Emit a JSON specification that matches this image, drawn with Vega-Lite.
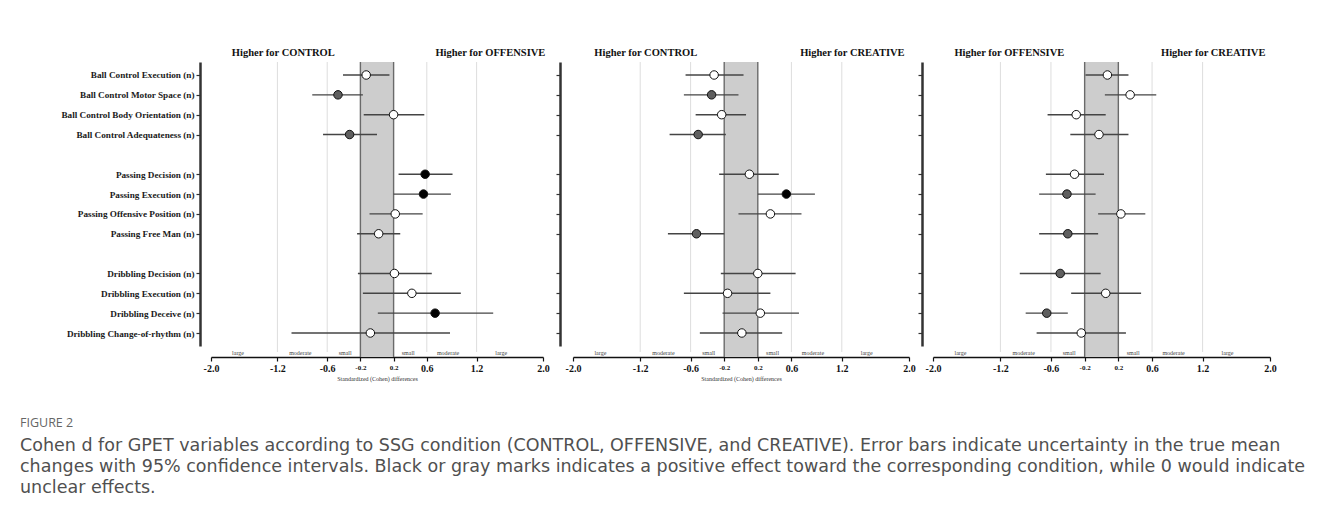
{
  "$schema": "https://vega.github.io/schema/vega-lite/v6.json",
  "padding": {"left": 20, "top": 47, "right": 5, "bottom": 5},
  "bounds": "flush",
  "spacing": 30,
  "config": {"view": {"stroke": null}, "font": "Liberation Serif"},
  "title": {
    "text": "FIGURE 2",
    "subtitle": [
      "Cohen d for GPET variables according to SSG condition (CONTROL, OFFENSIVE, and CREATIVE). Error bars indicate uncertainty in the true mean",
      "changes with 95% confidence intervals. Black or gray marks indicates a positive effect toward the corresponding condition, while 0 would indicate",
      "unclear effects."
    ],
    "orient": "bottom",
    "anchor": "start",
    "frame": "group",
    "dx": -191,
    "offset": 36,
    "font": "Open Sans",
    "fontSize": 12.5,
    "fontWeight": "normal",
    "color": "#666666",
    "subtitleFont": "DejaVu Sans",
    "subtitleFontSize": 17.5,
    "subtitleFontWeight": "normal",
    "subtitleColor": "#505050",
    "subtitleLineHeight": 21,
    "subtitlePadding": 7
  },
  "datasets": {
    "band": [{"lo": -0.2, "hi": 0.2}],
    "edges": [{"v": -0.2}, {"v": 0.2}],
    "grid": [{"v": -1.2}, {"v": -0.6}, {"v": 0.6}, {"v": 1.2}],
    "cohen": [
      {"comparison": "CONTROL-OFFENSIVE", "item": "Ball Control Execution (n)", "d": -0.13, "lo": -0.41, "hi": 0.15, "effect": "unclear"},
      {"comparison": "CONTROL-OFFENSIVE", "item": "Ball Control Motor Space (n)", "d": -0.47, "lo": -0.78, "hi": -0.17, "effect": "gray"},
      {"comparison": "CONTROL-OFFENSIVE", "item": "Ball Control Body Orientation (n)", "d": 0.2, "lo": -0.16, "hi": 0.57, "effect": "unclear"},
      {"comparison": "CONTROL-OFFENSIVE", "item": "Ball Control Adequateness (n)", "d": -0.33, "lo": -0.65, "hi": 0.0, "effect": "gray"},
      {"comparison": "CONTROL-OFFENSIVE", "item": "Passing Decision (n)", "d": 0.58, "lo": 0.26, "hi": 0.91, "effect": "black"},
      {"comparison": "CONTROL-OFFENSIVE", "item": "Passing Execution (n)", "d": 0.56, "lo": 0.2, "hi": 0.89, "effect": "black"},
      {"comparison": "CONTROL-OFFENSIVE", "item": "Passing Offensive Position (n)", "d": 0.22, "lo": -0.09, "hi": 0.55, "effect": "unclear"},
      {"comparison": "CONTROL-OFFENSIVE", "item": "Passing Free Man (n)", "d": 0.02, "lo": -0.24, "hi": 0.28, "effect": "unclear"},
      {"comparison": "CONTROL-OFFENSIVE", "item": "Dribbling Decision (n)", "d": 0.21, "lo": -0.23, "hi": 0.66, "effect": "unclear"},
      {"comparison": "CONTROL-OFFENSIVE", "item": "Dribbling Execution (n)", "d": 0.42, "lo": -0.17, "hi": 1.01, "effect": "unclear"},
      {"comparison": "CONTROL-OFFENSIVE", "item": "Dribbling Deceive (n)", "d": 0.7, "lo": 0.01, "hi": 1.4, "effect": "black"},
      {"comparison": "CONTROL-OFFENSIVE", "item": "Dribbling Change-of-rhythm (n)", "d": -0.08, "lo": -1.03, "hi": 0.88, "effect": "unclear"},
      {"comparison": "CONTROL-CREATIVE", "item": "Ball Control Execution (n)", "d": -0.32, "lo": -0.66, "hi": 0.03, "effect": "unclear"},
      {"comparison": "CONTROL-CREATIVE", "item": "Ball Control Motor Space (n)", "d": -0.35, "lo": -0.68, "hi": -0.03, "effect": "gray"},
      {"comparison": "CONTROL-CREATIVE", "item": "Ball Control Body Orientation (n)", "d": -0.23, "lo": -0.54, "hi": 0.06, "effect": "unclear"},
      {"comparison": "CONTROL-CREATIVE", "item": "Ball Control Adequateness (n)", "d": -0.51, "lo": -0.85, "hi": -0.18, "effect": "gray"},
      {"comparison": "CONTROL-CREATIVE", "item": "Passing Decision (n)", "d": 0.1, "lo": -0.26, "hi": 0.45, "effect": "unclear"},
      {"comparison": "CONTROL-CREATIVE", "item": "Passing Execution (n)", "d": 0.54, "lo": 0.2, "hi": 0.88, "effect": "black"},
      {"comparison": "CONTROL-CREATIVE", "item": "Passing Offensive Position (n)", "d": 0.35, "lo": -0.03, "hi": 0.72, "effect": "unclear"},
      {"comparison": "CONTROL-CREATIVE", "item": "Passing Free Man (n)", "d": -0.53, "lo": -0.87, "hi": -0.2, "effect": "gray"},
      {"comparison": "CONTROL-CREATIVE", "item": "Dribbling Decision (n)", "d": 0.2, "lo": -0.24, "hi": 0.65, "effect": "unclear"},
      {"comparison": "CONTROL-CREATIVE", "item": "Dribbling Execution (n)", "d": -0.16, "lo": -0.68, "hi": 0.35, "effect": "unclear"},
      {"comparison": "CONTROL-CREATIVE", "item": "Dribbling Deceive (n)", "d": 0.23, "lo": -0.22, "hi": 0.69, "effect": "unclear"},
      {"comparison": "CONTROL-CREATIVE", "item": "Dribbling Change-of-rhythm (n)", "d": 0.01, "lo": -0.49, "hi": 0.49, "effect": "unclear"},
      {"comparison": "OFFENSIVE-CREATIVE", "item": "Ball Control Execution (n)", "d": 0.07, "lo": -0.19, "hi": 0.32, "effect": "unclear"},
      {"comparison": "OFFENSIVE-CREATIVE", "item": "Ball Control Motor Space (n)", "d": 0.34, "lo": 0.04, "hi": 0.65, "effect": "unclear"},
      {"comparison": "OFFENSIVE-CREATIVE", "item": "Ball Control Body Orientation (n)", "d": -0.3, "lo": -0.64, "hi": 0.05, "effect": "unclear"},
      {"comparison": "OFFENSIVE-CREATIVE", "item": "Ball Control Adequateness (n)", "d": -0.03, "lo": -0.37, "hi": 0.32, "effect": "unclear"},
      {"comparison": "OFFENSIVE-CREATIVE", "item": "Passing Decision (n)", "d": -0.32, "lo": -0.66, "hi": 0.03, "effect": "unclear"},
      {"comparison": "OFFENSIVE-CREATIVE", "item": "Passing Execution (n)", "d": -0.41, "lo": -0.74, "hi": -0.07, "effect": "gray"},
      {"comparison": "OFFENSIVE-CREATIVE", "item": "Passing Offensive Position (n)", "d": 0.23, "lo": -0.04, "hi": 0.52, "effect": "unclear"},
      {"comparison": "OFFENSIVE-CREATIVE", "item": "Passing Free Man (n)", "d": -0.4, "lo": -0.74, "hi": -0.04, "effect": "gray"},
      {"comparison": "OFFENSIVE-CREATIVE", "item": "Dribbling Decision (n)", "d": -0.49, "lo": -0.97, "hi": -0.01, "effect": "gray"},
      {"comparison": "OFFENSIVE-CREATIVE", "item": "Dribbling Execution (n)", "d": 0.05, "lo": -0.36, "hi": 0.47, "effect": "unclear"},
      {"comparison": "OFFENSIVE-CREATIVE", "item": "Dribbling Deceive (n)", "d": -0.65, "lo": -0.9, "hi": -0.4, "effect": "gray"},
      {"comparison": "OFFENSIVE-CREATIVE", "item": "Dribbling Change-of-rhythm (n)", "d": -0.24, "lo": -0.77, "hi": 0.29, "effect": "unclear"}
    ]
  },
  "hconcat": [
    {
      "width": 332,
      "height": 284,
      "resolve": {"axis": {"x": "independent"}},
      "layer": [
        {
          "data": {"name": "band"},
          "mark": {"type": "rect", "color": "#cdcdcd"},
          "encoding": {
            "x": {"field": "lo", "type": "quantitative", "scale": {"domain": [-2, 2], "nice": false, "zero": false},
              "axis": {"orient": "bottom", "values": [-1.68, -0.93, -0.39, 0.37, 0.85, 1.49], "labelExpr": "abs(datum.value) > 1.2 ? 'large' : abs(datum.value) > 0.6 ? 'moderate' : 'small'", "offset": 0, "domain": false, "ticks": false, "grid": false, "title": null, "labelFont": "Liberation Serif", "labelFontSize": 6, "labelColor": "#444", "labelPadding": 3, "labelFlush": false, "labelOverlap": false}},
            "x2": {"field": "hi"},
            "y": {"value": 0},
            "y2": {"value": {"expr": "height + 11"}}
          }
        },
        {
          "data": {"name": "grid"},
          "mark": {"type": "rule", "color": "#dddddd", "strokeWidth": 1},
          "encoding": {
            "x": {"field": "v", "type": "quantitative", "axis": null},
            "y": {"value": 0},
            "y2": {"value": {"expr": "height + 6"}}
          }
        },
        {
          "data": {"name": "edges"},
          "mark": {"type": "rule", "color": "#6a6a6a", "strokeWidth": 1.4},
          "encoding": {
            "x": {"field": "v", "type": "quantitative",
              "axis": {"orient": "top", "values": [-1.135, 1.36], "labelExpr": "datum.value < 0 ? 'Higher for CONTROL' : 'Higher for OFFENSIVE'", "domain": false, "ticks": false, "grid": false, "title": null, "labelFont": "Liberation Serif", "labelFontWeight": "bold", "labelFontSize": 10.5, "labelColor": "#111", "labelPadding": 5, "labelFlush": false, "labelOverlap": false}},
            "y": {"value": 0},
            "y2": {"value": {"expr": "height + 11"}}
          }
        },
        {
          "data": {"name": "cohen"},
          "transform": [{"filter": "datum.comparison == 'CONTROL-OFFENSIVE'"}],
          "mark": {"type": "rule", "color": "#444444", "strokeWidth": 1.4},
          "encoding": {
            "x": {"field": "lo", "type": "quantitative",
              "axis": {"values": [-2, -1.2, -0.6, -0.2, 0.2, 0.6, 1.2, 2], "labelExpr": "replace(format(datum.value, '.1f'), '\u2212', '-')", "offset": 11, "title": "Standardized (Cohen) differences", "titleFont": "Liberation Serif", "titleFontSize": 6, "titleFontWeight": "normal", "titleColor": "#333", "titlePadding": 2, "domainColor": "#111", "domainWidth": 1.5, "tickColor": "#111", "tickSize": 4, "tickWidth": 1.2, "labelFont": "Liberation Serif", "labelFontWeight": "bold", "labelFontSize": {"condition": {"test": "abs(datum.value) < 0.3", "value": 7}, "value": 10}, "labelColor": "#111", "labelPadding": 2, "grid": false, "labelFlush": false, "labelOverlap": false}},
            "x2": {"field": "hi"},
            "y": {"field": "item", "type": "nominal",
              "scale": {"type": "point", "padding": 0.655, "domain": ["Ball Control Execution (n)", "Ball Control Motor Space (n)", "Ball Control Body Orientation (n)", "Ball Control Adequateness (n)", "gap1", "Passing Decision (n)", "Passing Execution (n)", "Passing Offensive Position (n)", "Passing Free Man (n)", "gap2", "Dribbling Decision (n)", "Dribbling Execution (n)", "Dribbling Deceive (n)", "Dribbling Change-of-rhythm (n)"]},
              "axis": {"values": ["Ball Control Execution (n)", "Ball Control Motor Space (n)", "Ball Control Body Orientation (n)", "Ball Control Adequateness (n)", "Passing Decision (n)", "Passing Execution (n)", "Passing Offensive Position (n)", "Passing Free Man (n)", "Dribbling Decision (n)", "Dribbling Execution (n)", "Dribbling Deceive (n)", "Dribbling Change-of-rhythm (n)"], "offset": 11, "title": null, "domainColor": "#333", "domainWidth": 2.5, "tickColor": "#333", "tickWidth": 1.2, "tickSize": 4, "labelFont": "Liberation Serif", "labelFontWeight": "bold", "labelFontSize": 9.2, "labelColor": "#1a1a1a", "labelPadding": 2, "grid": false}}
          }
        },
        {
          "data": {"name": "cohen"},
          "transform": [{"filter": "datum.comparison == 'CONTROL-OFFENSIVE'"}],
          "mark": {"type": "point", "shape": "circle", "filled": true, "size": 72, "stroke": "#111", "strokeWidth": 1, "opacity": 1},
          "encoding": {
            "x": {"field": "d", "type": "quantitative", "axis": null},
            "y": {"field": "item", "type": "nominal"},
            "fill": {"field": "effect", "type": "nominal", "scale": {"domain": ["unclear", "gray", "black"], "range": ["#ffffff", "#5f5f5f", "#000000"]}, "legend": null}
          }
        }
      ]
    },
    {
      "spacing": 24,
      "bounds": "flush",
      "hconcat": [
        {
          "width": 336,
          "height": 284,
          "resolve": {"axis": {"x": "independent"}},
          "layer": [
            {
              "data": {"name": "band"},
              "mark": {"type": "rect", "color": "#cdcdcd"},
              "encoding": {
                "x": {"field": "lo", "type": "quantitative", "scale": {"domain": [-2, 2], "nice": false, "zero": false},
                  "axis": {"orient": "bottom", "values": [-1.68, -0.93, -0.39, 0.37, 0.85, 1.49], "labelExpr": "abs(datum.value) > 1.2 ? 'large' : abs(datum.value) > 0.6 ? 'moderate' : 'small'", "offset": 0, "domain": false, "ticks": false, "grid": false, "title": null, "labelFont": "Liberation Serif", "labelFontSize": 6, "labelColor": "#444", "labelPadding": 3, "labelFlush": false, "labelOverlap": false}},
                "x2": {"field": "hi"},
                "y": {"value": 0},
                "y2": {"value": {"expr": "height + 11"}}
              }
            },
            {
              "data": {"name": "grid"},
              "mark": {"type": "rule", "color": "#dddddd", "strokeWidth": 1},
              "encoding": {
                "x": {"field": "v", "type": "quantitative", "axis": null},
                "y": {"value": 0},
                "y2": {"value": {"expr": "height + 6"}}
              }
            },
            {
              "data": {"name": "edges"},
              "mark": {"type": "rule", "color": "#6a6a6a", "strokeWidth": 1.4},
              "encoding": {
                "x": {"field": "v", "type": "quantitative",
                  "axis": {"orient": "top", "values": [-1.14, 1.32], "labelExpr": "datum.value < 0 ? 'Higher for CONTROL' : 'Higher for CREATIVE'", "domain": false, "ticks": false, "grid": false, "title": null, "labelFont": "Liberation Serif", "labelFontWeight": "bold", "labelFontSize": 10.5, "labelColor": "#111", "labelPadding": 5, "labelFlush": false, "labelOverlap": false}},
                "y": {"value": 0},
                "y2": {"value": {"expr": "height + 11"}}
              }
            },
            {
              "data": {"name": "cohen"},
              "transform": [{"filter": "datum.comparison == 'CONTROL-CREATIVE'"}],
              "mark": {"type": "rule", "color": "#444444", "strokeWidth": 1.4},
              "encoding": {
                "x": {"field": "lo", "type": "quantitative",
                  "axis": {"values": [-2, -1.2, -0.6, -0.2, 0.2, 0.6, 1.2, 2], "labelExpr": "replace(format(datum.value, '.1f'), '\u2212', '-')", "offset": 11, "title": "Standardized (Cohen) differences", "titleFont": "Liberation Serif", "titleFontSize": 6, "titleFontWeight": "normal", "titleColor": "#333", "titlePadding": 2, "domainColor": "#111", "domainWidth": 1.5, "tickColor": "#111", "tickSize": 4, "tickWidth": 1.2, "labelFont": "Liberation Serif", "labelFontWeight": "bold", "labelFontSize": {"condition": {"test": "abs(datum.value) < 0.3", "value": 7}, "value": 10}, "labelColor": "#111", "labelPadding": 2, "grid": false, "labelFlush": false, "labelOverlap": false}},
                "x2": {"field": "hi"},
                "y": {"field": "item", "type": "nominal",
                  "scale": {"type": "point", "padding": 0.655, "domain": ["Ball Control Execution (n)", "Ball Control Motor Space (n)", "Ball Control Body Orientation (n)", "Ball Control Adequateness (n)", "gap1", "Passing Decision (n)", "Passing Execution (n)", "Passing Offensive Position (n)", "Passing Free Man (n)", "gap2", "Dribbling Decision (n)", "Dribbling Execution (n)", "Dribbling Deceive (n)", "Dribbling Change-of-rhythm (n)"]},
                  "axis": {"values": ["Ball Control Execution (n)", "Ball Control Motor Space (n)", "Ball Control Body Orientation (n)", "Ball Control Adequateness (n)", "Passing Decision (n)", "Passing Execution (n)", "Passing Offensive Position (n)", "Passing Free Man (n)", "Dribbling Decision (n)", "Dribbling Execution (n)", "Dribbling Deceive (n)", "Dribbling Change-of-rhythm (n)"], "offset": 13, "title": null, "labels": false, "domainColor": "#333", "domainWidth": 2.5, "tickColor": "#333", "tickWidth": 1.2, "tickSize": 4, "grid": false}}
              }
            },
            {
              "data": {"name": "cohen"},
              "transform": [{"filter": "datum.comparison == 'CONTROL-CREATIVE'"}],
              "mark": {"type": "point", "shape": "circle", "filled": true, "size": 72, "stroke": "#111", "strokeWidth": 1, "opacity": 1},
              "encoding": {
                "x": {"field": "d", "type": "quantitative", "axis": null},
                "y": {"field": "item", "type": "nominal"},
                "fill": {"field": "effect", "type": "nominal", "scale": {"domain": ["unclear", "gray", "black"], "range": ["#ffffff", "#5f5f5f", "#000000"]}, "legend": null}
              }
            }
          ]
        },
        {
          "width": 337,
          "height": 284,
          "resolve": {"axis": {"x": "independent"}},
          "layer": [
            {
              "data": {"name": "band"},
              "mark": {"type": "rect", "color": "#cdcdcd"},
              "encoding": {
                "x": {"field": "lo", "type": "quantitative", "scale": {"domain": [-2, 2], "nice": false, "zero": false},
                  "axis": {"orient": "bottom", "values": [-1.68, -0.93, -0.39, 0.37, 0.85, 1.49], "labelExpr": "abs(datum.value) > 1.2 ? 'large' : abs(datum.value) > 0.6 ? 'moderate' : 'small'", "offset": 0, "domain": false, "ticks": false, "grid": false, "title": null, "labelFont": "Liberation Serif", "labelFontSize": 6, "labelColor": "#444", "labelPadding": 3, "labelFlush": false, "labelOverlap": false}},
                "x2": {"field": "hi"},
                "y": {"value": 0},
                "y2": {"value": {"expr": "height + 11"}}
              }
            },
            {
              "data": {"name": "grid"},
              "mark": {"type": "rule", "color": "#dddddd", "strokeWidth": 1},
              "encoding": {
                "x": {"field": "v", "type": "quantitative", "axis": null},
                "y": {"value": 0},
                "y2": {"value": {"expr": "height + 6"}}
              }
            },
            {
              "data": {"name": "edges"},
              "mark": {"type": "rule", "color": "#6a6a6a", "strokeWidth": 1.4},
              "encoding": {
                "x": {"field": "v", "type": "quantitative",
                  "axis": {"orient": "top", "values": [-1.1, 1.32], "labelExpr": "datum.value < 0 ? 'Higher for OFFENSIVE' : 'Higher for CREATIVE'", "domain": false, "ticks": false, "grid": false, "title": null, "labelFont": "Liberation Serif", "labelFontWeight": "bold", "labelFontSize": 10.5, "labelColor": "#111", "labelPadding": 5, "labelFlush": false, "labelOverlap": false}},
                "y": {"value": 0},
                "y2": {"value": {"expr": "height + 11"}}
              }
            },
            {
              "data": {"name": "cohen"},
              "transform": [{"filter": "datum.comparison == 'OFFENSIVE-CREATIVE'"}],
              "mark": {"type": "rule", "color": "#444444", "strokeWidth": 1.4},
              "encoding": {
                "x": {"field": "lo", "type": "quantitative",
                  "axis": {"values": [-2, -1.2, -0.6, -0.2, 0.2, 0.6, 1.2, 2], "labelExpr": "replace(format(datum.value, '.1f'), '\u2212', '-')", "offset": 11, "title": null, "domainColor": "#111", "domainWidth": 1.5, "tickColor": "#111", "tickSize": 4, "tickWidth": 1.2, "labelFont": "Liberation Serif", "labelFontWeight": "bold", "labelFontSize": {"condition": {"test": "abs(datum.value) < 0.3", "value": 7}, "value": 10}, "labelColor": "#111", "labelPadding": 2, "grid": false, "labelFlush": false, "labelOverlap": false}},
                "x2": {"field": "hi"},
                "y": {"field": "item", "type": "nominal",
                  "scale": {"type": "point", "padding": 0.655, "domain": ["Ball Control Execution (n)", "Ball Control Motor Space (n)", "Ball Control Body Orientation (n)", "Ball Control Adequateness (n)", "gap1", "Passing Decision (n)", "Passing Execution (n)", "Passing Offensive Position (n)", "Passing Free Man (n)", "gap2", "Dribbling Decision (n)", "Dribbling Execution (n)", "Dribbling Deceive (n)", "Dribbling Change-of-rhythm (n)"]},
                  "axis": {"values": ["Ball Control Execution (n)", "Ball Control Motor Space (n)", "Ball Control Body Orientation (n)", "Ball Control Adequateness (n)", "Passing Decision (n)", "Passing Execution (n)", "Passing Offensive Position (n)", "Passing Free Man (n)", "Dribbling Decision (n)", "Dribbling Execution (n)", "Dribbling Deceive (n)", "Dribbling Change-of-rhythm (n)"], "offset": 11, "title": null, "labels": false, "domainColor": "#333", "domainWidth": 2.5, "tickColor": "#333", "tickWidth": 1.2, "tickSize": 4, "grid": false}}
              }
            },
            {
              "data": {"name": "cohen"},
              "transform": [{"filter": "datum.comparison == 'OFFENSIVE-CREATIVE'"}],
              "mark": {"type": "point", "shape": "circle", "filled": true, "size": 72, "stroke": "#111", "strokeWidth": 1, "opacity": 1},
              "encoding": {
                "x": {"field": "d", "type": "quantitative", "axis": null},
                "y": {"field": "item", "type": "nominal"},
                "fill": {"field": "effect", "type": "nominal", "scale": {"domain": ["unclear", "gray", "black"], "range": ["#ffffff", "#5f5f5f", "#000000"]}, "legend": null}
              }
            }
          ]
        }
      ]
    }
  ]
}
